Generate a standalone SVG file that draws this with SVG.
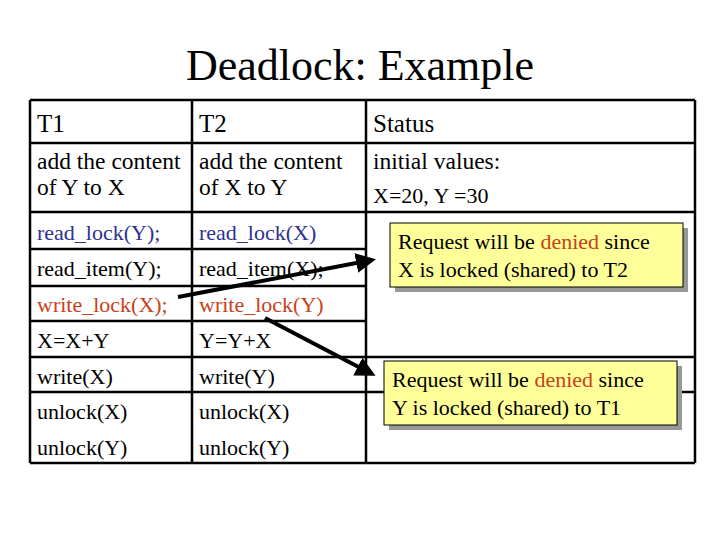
<svg xmlns="http://www.w3.org/2000/svg" width="720" height="540" viewBox="0 0 720 540">
<style>
text{font-family:"Liberation Serif",serif;font-size:23.5px;fill:#000}
.t{font-size:44px}
.h{font-size:25px}
.b{fill:#2e3192}
.r{fill:#c8411b}
.g line{stroke:#000;stroke-width:2.5}
.c{fill:#ffff99;stroke:#000;stroke-width:1}
.s{fill:#999}
.a{stroke:#000;stroke-width:4;fill:none}
.k{font-size:22px}
</style>
<defs><marker id="ah" markerWidth="6" markerHeight="6" refX="4" refY="3" orient="auto" markerUnits="strokeWidth"><path d="M0,0.5 L5,3 L0,5.5z" fill="#000"/></marker></defs>
<rect width="720" height="540" fill="#fff"/>
<text class="t" x="360" y="80" text-anchor="middle">Deadlock: Example</text>
<g id="table" class="g">
<line x1="30" y1="100" x2="695" y2="100"/><line x1="30" y1="463" x2="695" y2="463"/>
<line x1="30" y1="100" x2="30" y2="463"/><line x1="695" y1="100" x2="695" y2="463"/>
<line x1="192" y1="100" x2="192" y2="463"/><line x1="366" y1="100" x2="366" y2="463"/>
<line x1="30" y1="143" x2="695" y2="143"/><line x1="30" y1="212" x2="695" y2="212"/>
<line x1="30" y1="249" x2="366" y2="249"/><line x1="30" y1="286" x2="366" y2="286"/>
<line x1="30" y1="321" x2="366" y2="321"/><line x1="30" y1="357" x2="695" y2="357"/>
<line x1="30" y1="392" x2="695" y2="392"/>
</g>
<g id="col1">
<text class="h" x="37" y="132">T1</text>
<text x="37" y="169">add the content</text><text x="37" y="195">of Y to X</text>
<text class="b k" x="37" y="240">read_lock(Y);</text>
<text class="k" x="37" y="276">read_item(Y);</text>
<text class="r k" x="37" y="312">write_lock(X);</text>
<text class="k" x="37" y="348">X=X+Y</text>
<text class="k" x="37" y="384">write(X)</text>
<text class="k" x="37" y="419">unlock(X)</text>
<text class="k" x="37" y="455">unlock(Y)</text>
</g>
<g id="col2">
<text class="h" x="199" y="132">T2</text>
<text x="199" y="169">add the content</text><text x="199" y="195">of X to Y</text>
<text class="b k" x="199" y="240">read_lock(X)</text>
<text class="k" x="199" y="276">read_item(X);</text>
<text class="r k" x="199" y="312">write_lock(Y)</text>
<text class="k" x="199" y="348">Y=Y+X</text>
<text class="k" x="199" y="384">write(Y)</text>
<text class="k" x="199" y="419">unlock(X)</text>
<text class="k" x="199" y="455">unlock(Y)</text>
</g>
<g id="col3">
<text class="h" x="373" y="132">Status</text>
<text x="373" y="169">initial values:</text><text class="k" x="373" y="203">X=20, Y =30</text>
</g>
<g id="callout1">
<rect class="s" x="395" y="228" width="293" height="64"/>
<rect class="c" x="390" y="223" width="293" height="64"/>
<text class="k" x="398" y="249">Request will be <tspan class="r">denied</tspan> since</text>
<text class="k" x="398" y="277">X is locked (shared) to T2</text>
</g>
<g id="callout2">
<rect class="s" x="389" y="366" width="293" height="64"/>
<rect class="c" x="384" y="361" width="293" height="64"/>
<text class="k" x="392" y="387">Request will be <tspan class="r">denied</tspan> since</text>
<text class="k" x="392" y="415">Y is locked (shared) to T1</text>
</g>
<g id="connectors">
<line class="a" x1="178" y1="297" x2="372" y2="260" marker-end="url(#ah)"/>
<line class="a" x1="265" y1="318" x2="372" y2="374" marker-end="url(#ah)"/>
</g>
</svg>
